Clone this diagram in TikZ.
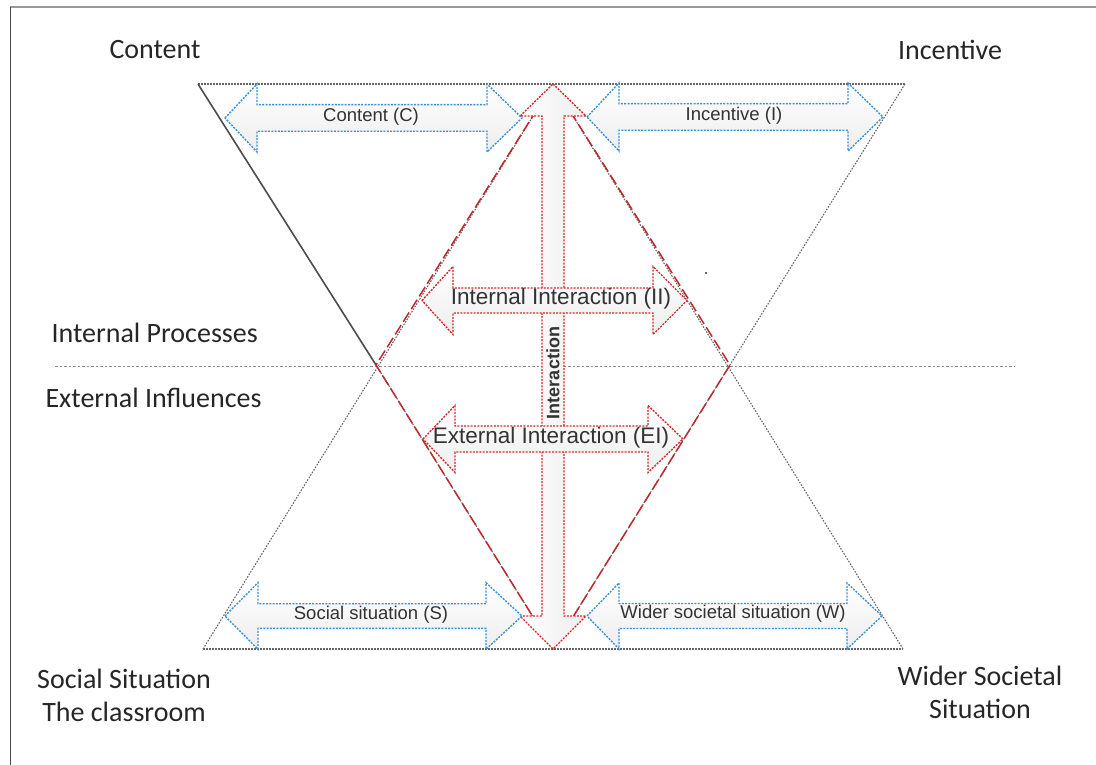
\documentclass[tikz,border=0pt]{standalone}
\usepackage{fontspec}
\setmainfont{Carlito}
\newfontfamily\arialf{Liberation Sans}
\definecolor{bluedot}{HTML}{3A8FD8}
\definecolor{reddot}{HTML}{D42A2A}
\definecolor{reddash}{HTML}{C0282A}
\definecolor{txt}{HTML}{333333}
\newcommand\hdarrowpath[7]{(#1,#5) -- (#2,{#5-#6}) -- (#2,{#5-#7}) -- (#3,{#5-#7}) -- (#3,{#5-#6}) -- (#4,#5) -- (#3,{#5+#6}) -- (#3,{#5+#7}) -- (#2,{#5+#7}) -- (#2,{#5+#6}) -- cycle}
\tikzset{
  frameline/.style={draw=gray!80, line width=1.4pt},
  tridot/.style={draw=black!60, dash pattern=on 1.6pt off 1.4pt, line width=1.1pt},
  trisolid/.style={draw=black!70, line width=1.6pt},
  diamdash/.style={draw=reddash, dash pattern=on 11pt off 4pt, line width=1.5pt},
  midline/.style={draw=black!45, dash pattern=on 2.5pt off 2pt, line width=0.9pt},
  bluearrow/.style={draw=bluedot, dash pattern=on 2pt off 1.3pt, line width=1.4pt, top color=white, bottom color=black!7},
  redarrow/.style={draw=reddot, dash pattern=on 2pt off 1.3pt, line width=1.4pt, top color=white, bottom color=black!7},
  vredarrow/.style={draw=reddot, dash pattern=on 2pt off 1.3pt, line width=1.4pt, left color=white, right color=black!7},
  outerlabel/.style={font=\fontsize{28}{33}\selectfont, text=black!85, align=center},
  arrowlabel/.style={font=\arialf\fontsize{18.5}{22}\selectfont, text=txt},
  intlabel/.style={font=\arialf\fontsize{22.5}{26}\selectfont, text=txt},
}
\begin{document}
\begin{tikzpicture}[x=1pt,y=-1pt]
\useasboundingbox (0,0) rectangle (1096,765);
% frame
\coordinate (F0) at (10,7);
\coordinate (F1) at (1096,7);
\coordinate (F2) at (10,765);
\draw[frameline] (F0) -- (F1);
\draw[draw=black!70, line width=0.9pt] (F0) -- (F2);
% triangle vertices
\coordinate (TL) at (198,84);
\coordinate (TR) at (905,84);
\coordinate (BL) at (203,649);
\coordinate (BR) at (903,649);
\coordinate (T) at (553,84);
\coordinate (B) at (553,649);
\coordinate (L) at (376,365);
\coordinate (R) at (730,365);
\coordinate (ML) at (55,366);
\coordinate (MR) at (1015,366);
% middle line
\draw[midline] (ML) -- (MR);
% triangles
\draw[tridot] (TL) -- (TR);
\draw[tridot] (BL) -- (BR);
\draw[trisolid] (TL) -- (L);
\draw[tridot] (L) -- (B);
\draw[tridot] (TR) -- (B);
\draw[tridot] (BL) -- (T);
\draw[tridot] (BR) -- (T);
% diamond
\draw[diamdash] (T) -- (L) -- (B) -- (R) -- cycle;
% vertical arrow
\path[vredarrow] (553,84) -- (586,116) -- (564,116) -- (564,616) -- (586,616) -- (553,649) -- (520,616) -- (542,616) -- (542,116) -- (520,116) -- cycle;
\node[rotate=90, font=\arialf\bfseries\fontsize{18}{21}\selectfont, text=txt] (inter) at (553,373) {Interaction};
% horizontal arrows
\path[redarrow] \hdarrowpath{422}{453}{653}{687}{300.5}{34}{12.5};
\node[intlabel] (ii) at (561,299) {Internal Interaction (II)};
\path[redarrow] \hdarrowpath{423}{455}{648}{683}{439}{33.5}{13};
\node[intlabel] (ei) at (551,438) {External Interaction (EI)};
\path[bluearrow] \hdarrowpath{225}{257}{487}{522}{118}{34}{13.3};
\node[arrowlabel] (c) at (371,117) {Content (C)};
\path[bluearrow] \hdarrowpath{587}{619}{848}{883}{117}{34}{13.3};
\node[arrowlabel] (i) at (734,116) {Incentive (I)};
\path[bluearrow] \hdarrowpath{225}{258}{486}{522}{616}{33.3}{12.3};
\node[arrowlabel] (s) at (371,615) {Social situation (S)};
\path[bluearrow] \hdarrowpath{587}{619}{847}{882}{616}{33}{12.5};
\node[arrowlabel] (w) at (733,614) {Wider societal situation (W)};
% outer labels
\node[outerlabel] (content) at (155,50) {Content};
\node[outerlabel] (incentive) at (950,50) {Incentive};
\node[outerlabel, anchor=west] (ip) at (48,333) {Internal Processes};
\node[outerlabel, anchor=west] (ex) at (42,398) {External Influences};
\node[outerlabel] (ss) at (124,695) {Social Situation\\The classroom};
\node[outerlabel] (ws) at (980,692) {Wider Societal\\Situation};
% speck
\fill[black!80] (706,273) circle (1.2);
\end{tikzpicture}
\end{document}
